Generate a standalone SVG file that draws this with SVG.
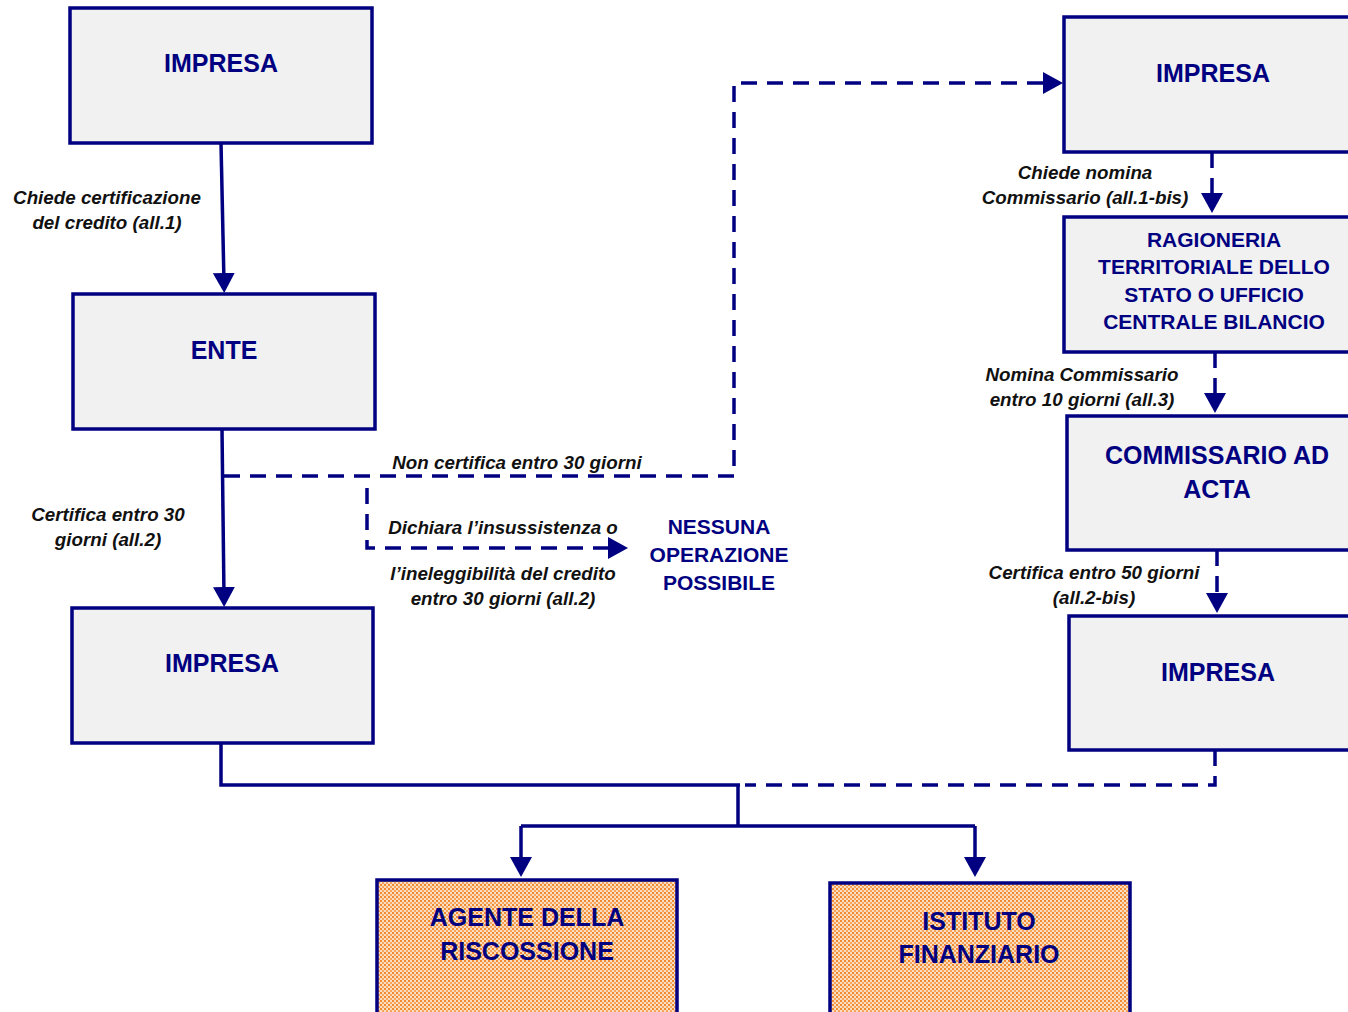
<svg xmlns="http://www.w3.org/2000/svg" width="1348" height="1012" viewBox="0 0 1348 1012">
<style>
.box{fill:#F1F1F1;stroke:#000080;stroke-width:3.5}
.obox{fill:url(#dots);stroke:#000080;stroke-width:3.5}
.nt{font-family:"Liberation Sans",Arial,sans-serif;font-weight:bold;fill:#000080;text-anchor:middle}
.lb{font-family:"Liberation Sans",Arial,sans-serif;font-weight:bold;font-style:italic;font-size:18.8px;fill:#111;text-anchor:middle}
.sl{fill:none;stroke:#000080;stroke-width:3.5}
.dl{fill:none;stroke:#000080;stroke-width:3.5;stroke-dasharray:16 10}
</style>
<defs>
<pattern id="dots" width="4" height="4" patternUnits="userSpaceOnUse">
<rect width="4" height="4" fill="#FBDDBF"/>
<rect x="0" y="0" width="2" height="2" fill="#EF8A30"/>
<rect x="2" y="2" width="2" height="2" fill="#F4A45C"/>
</pattern>
<marker id="ah" markerUnits="userSpaceOnUse" markerWidth="22" markerHeight="22" refX="10" refY="11" orient="auto">
<path d="M0,0 L20,11 L0,22 Z" fill="#000080"/>
</marker>
</defs>

<g id="connectors">
<path class="sl" d="M221,143 L224,283" marker-end="url(#ah)"/>
<path class="sl" d="M222,429 L224,597" marker-end="url(#ah)"/>
<path class="dl" d="M224,476 L734,476 L734,83 L1053,83" marker-end="url(#ah)"/>
<path class="dl" d="M367,488 L367,548 L618,548" marker-end="url(#ah)"/>
<path class="dl" d="M1212,152 L1212,203" marker-end="url(#ah)"/>
<path class="dl" d="M1215,352 L1215,403" marker-end="url(#ah)"/>
<path class="dl" d="M1217,550 L1217,603" marker-end="url(#ah)"/>
<path class="dl" d="M1215,750 L1215,785 L745,785"/>
<path class="sl" d="M221,743 L221,785 L740,785"/>
<path class="sl" d="M738,785 L738,826"/>
<path class="sl" d="M521,826 L975,826"/>
<path class="sl" d="M521,826 L521,867" marker-end="url(#ah)"/>
<path class="sl" d="M975,826 L975,867" marker-end="url(#ah)"/>
</g>

<g id="n-impresa1"><rect class="box" x="70" y="8" width="302" height="135"/><text class="nt" x="221" y="72" font-size="25">IMPRESA</text></g>
<g id="n-ente"><rect class="box" x="73" y="294" width="302" height="135"/><text class="nt" x="224" y="359" font-size="25">ENTE</text></g>
<g id="n-impresa2"><rect class="box" x="72" y="608" width="301" height="135"/><text class="nt" x="222" y="672" font-size="25">IMPRESA</text></g>

<g id="n-impresa-r1"><rect class="box" x="1064" y="17" width="300" height="135"/><text class="nt" x="1213" y="82" font-size="25">IMPRESA</text></g>
<g id="n-ragioneria"><rect class="box" x="1064" y="217" width="300" height="135"/>
<text class="nt" font-size="21"><tspan x="1214" y="247">RAGIONERIA</tspan><tspan x="1214" y="274">TERRITORIALE DELLO</tspan><tspan x="1214" y="302">STATO O UFFICIO</tspan><tspan x="1214" y="329">CENTRALE BILANCIO</tspan></text></g>
<g id="n-commissario"><rect class="box" x="1067" y="416" width="300" height="134"/>
<text class="nt" font-size="25"><tspan x="1217" y="464">COMMISSARIO AD</tspan><tspan x="1217" y="498">ACTA</tspan></text></g>
<g id="n-impresa-r2"><rect class="box" x="1069" y="616" width="300" height="134"/><text class="nt" x="1218" y="681" font-size="25">IMPRESA</text></g>

<g id="n-nessuna"><text class="nt" font-size="21"><tspan x="719" y="534">NESSUNA</tspan><tspan x="719" y="562">OPERAZIONE</tspan><tspan x="719" y="590">POSSIBILE</tspan></text></g>

<g id="n-agente"><rect class="obox" x="377" y="880" width="300" height="140"/>
<text class="nt" font-size="25"><tspan x="527" y="926">AGENTE DELLA</tspan><tspan x="527" y="960">RISCOSSIONE</tspan></text></g>
<g id="n-istituto"><rect class="obox" x="830" y="883" width="300" height="140"/>
<text class="nt" font-size="25"><tspan x="979" y="930">ISTITUTO</tspan><tspan x="979" y="963">FINANZIARIO</tspan></text></g>

<g id="labels">
<text class="lb"><tspan x="107" y="204">Chiede certificazione</tspan><tspan x="107" y="229">del credito (all.1)</tspan></text>
<text class="lb"><tspan x="108" y="521">Certifica entro 30</tspan><tspan x="108" y="546">giorni (all.2)</tspan></text>
<text class="lb" x="517" y="469">Non certifica entro 30 giorni</text>
<text class="lb" x="503" y="534">Dichiara l’insussistenza o</text>
<text class="lb"><tspan x="503" y="580">l’ineleggibilità del credito</tspan><tspan x="503" y="605">entro 30 giorni (all.2)</tspan></text>
<text class="lb"><tspan x="1085" y="179">Chiede nomina</tspan><tspan x="1085" y="204">Commissario (all.1-bis)</tspan></text>
<text class="lb"><tspan x="1082" y="381">Nomina Commissario</tspan><tspan x="1082" y="406">entro 10 giorni (all.3)</tspan></text>
<text class="lb"><tspan x="1094" y="579">Certifica entro 50 giorni</tspan><tspan x="1094" y="604">(all.2-bis)</tspan></text>
</g>
</svg>
